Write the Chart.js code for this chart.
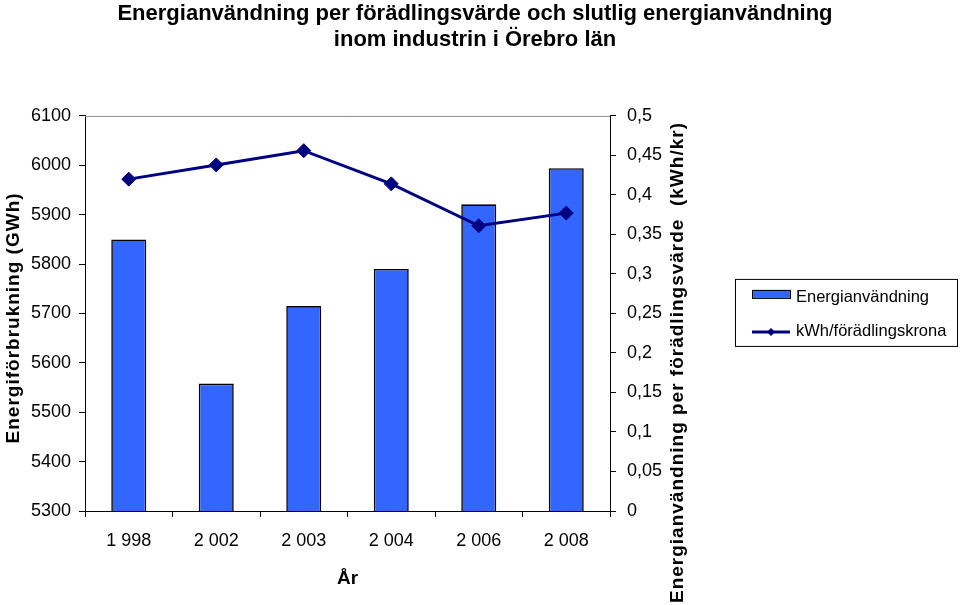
<!DOCTYPE html>
<html>
<head>
<meta charset="utf-8">
<script src="https://cdn.jsdelivr.net/npm/chart.js@4"></script>
<style>
html, body { margin: 0; padding: 0; background: #fff; }
</style>
</head>
<body>
<canvas id="energyChart" width="960" height="605"></canvas>
<script>
var years = ['1 998', '2 002', '2 003', '2 004', '2 006', '2 008'];
var energyUse = [5850, 5558, 5715, 5790, 5921, 5994];
var kwhPerKrona = [0.42, 0.438, 0.456, 0.414, 0.361, 0.377];

var FONT = '"Liberation Sans", Arial, sans-serif';

// top frame line (grey) like the original plot area border
var framePlugin = {
    id: 'frame',
    beforeDatasetsDraw: function (chart) {
        var a = chart.chartArea, ctx = chart.ctx;
        ctx.save();
        ctx.strokeStyle = '#8c8c8c';
        ctx.lineWidth = 1;
        ctx.beginPath();
        ctx.moveTo(a.left, a.top + 0.5);
        ctx.lineTo(a.right, a.top + 0.5);
        ctx.stroke();
        ctx.restore();
    }
};

// both y axis titles read bottom-to-top and are letter spaced
var axisTitlePlugin = {
    id: 'axisTitles',
    afterDraw: function (chart) {
        var ctx = chart.ctx, a = chart.chartArea;
        ctx.save();
        ctx.font = 'bold 19px ' + FONT;
        ctx.fillStyle = '#000';
        ctx.textBaseline = 'middle';
        ctx.letterSpacing = '1px';

        ctx.save();
        ctx.translate(14, a.top + 202);
        ctx.rotate(-Math.PI / 2);
        ctx.textAlign = 'center';
        ctx.fillText('Energiförbrukning (GWh)', 0, 0);
        ctx.restore();

        ctx.save();
        ctx.translate(a.right + 68, a.bottom + 92);
        ctx.rotate(-Math.PI / 2);
        ctx.textAlign = 'left';
        ctx.fillText('Energianvändning per förädlingsvärde  (kWh/kr)', 0, 0);
        ctx.restore();

        ctx.restore();
    }
};

// boxed legend to the right
var legendBoxPlugin = {
    id: 'legendBox',
    afterDraw: function (chart) {
        var ctx = chart.ctx, a = chart.chartArea;
        var ds = chart.data.datasets;
        var x = a.right + 125, y = a.top + 163, w = 222, h = 67;
        ctx.save();
        ctx.fillStyle = '#fff';
        ctx.fillRect(x, y, w, h);
        ctx.strokeStyle = '#000';
        ctx.lineWidth = 1;
        ctx.strokeRect(x + 0.5, y + 0.5, w, h);

        ctx.font = '16.5px ' + FONT;
        ctx.textBaseline = 'middle';

        // bar entry
        ctx.fillStyle = ds[0].backgroundColor;
        ctx.fillRect(x + 17, y + 11, 38, 8);
        ctx.strokeStyle = '#000';
        ctx.strokeRect(x + 17.5, y + 11.5, 38, 8);
        ctx.fillStyle = '#000';
        ctx.fillText(ds[0].label, x + 61, y + 19);

        // line entry
        var ly = y + 53;
        ctx.strokeStyle = ds[1].borderColor;
        ctx.lineWidth = 3;
        ctx.beginPath();
        ctx.moveTo(x + 17, ly);
        ctx.lineTo(x + 55, ly);
        ctx.stroke();
        ctx.fillStyle = ds[1].borderColor;
        ctx.beginPath();
        ctx.moveTo(x + 36, ly - 4);
        ctx.lineTo(x + 40, ly);
        ctx.lineTo(x + 36, ly + 4);
        ctx.lineTo(x + 32, ly);
        ctx.closePath();
        ctx.fill();
        ctx.fillStyle = '#000';
        ctx.fillText(ds[1].label, x + 61, ly);
        ctx.restore();
    }
};

function commaTick(value) {
    var v = Math.round(value * 100) / 100;
    return String(v).replace('.', ',');
}

function plainTick(value) {
    return String(value);
}

var ctx = document.getElementById('energyChart');

var energyChart = new Chart(ctx, {
    type: 'bar',
    data: {
        labels: years,
        datasets: [
            {
                type: 'bar',
                label: 'Energianvändning',
                data: energyUse,
                backgroundColor: '#3366FF',
                borderColor: '#000000',
                borderWidth: 1.6,
                categoryPercentage: 1,
                barPercentage: 0.4,
                yAxisID: 'y',
                order: 2
            },
            {
                type: 'line',
                label: 'kWh/förädlingskrona',
                data: kwhPerKrona,
                borderColor: '#000080',
                backgroundColor: '#000080',
                borderWidth: 3,
                pointStyle: 'rectRot',
                pointRadius: 7,
                pointBorderWidth: 1,
                tension: 0,
                yAxisID: 'y1',
                order: 1
            }
        ]
    },
    options: {
        responsive: false,
        animation: false,
        layout: { padding: { right: 10 } },
        plugins: {
            legend: { display: false },
            tooltip: { enabled: false },
            title: {
                display: true,
                text: ['Energianvändning per förädlingsvärde och slutlig energianvändning',
                    'inom industrin i Örebro län'],
                color: '#000',
                font: { family: FONT, size: 22, weight: 'bold', lineHeight: 1.18 },
                padding: { top: 1, bottom: 63 }
            }
        },
        scales: {
            x: {
                grid: { drawOnChartArea: false, color: '#000', tickLength: 6, offset: true },
                border: { color: '#000', width: 1 },
                ticks: { color: '#000', font: { family: FONT, size: 18 }, padding: 13, maxRotation: 0 },
                title: {
                    display: true, text: 'År', color: '#000',
                    font: { family: FONT, size: 19, weight: 'bold' },
                    padding: { top: 4, bottom: 15 }
                },
                afterFit: function (scale) { scale.height = 94; }
            },
            y: {
                position: 'left',
                min: 5300,
                max: 6100,
                grid: { drawOnChartArea: false, color: '#000', tickLength: 6 },
                border: { color: '#000', width: 1 },
                ticks: { stepSize: 100, color: '#000', font: { family: FONT, size: 18 }, padding: 8, callback: plainTick },
                afterFit: function (scale) { scale.width = 85; }
            },
            y1: {
                position: 'right',
                min: 0,
                max: 0.5,
                grid: { drawOnChartArea: false, color: '#000', tickLength: 6 },
                border: { color: '#000', width: 1 },
                ticks: { stepSize: 0.05, color: '#000', font: { family: FONT, size: 18 }, padding: 11, callback: commaTick },
                afterFit: function (scale) { scale.width = 340; }
            }
        }
    },
    plugins: [framePlugin, axisTitlePlugin, legendBoxPlugin]
});
</script>
</body>
</html>
